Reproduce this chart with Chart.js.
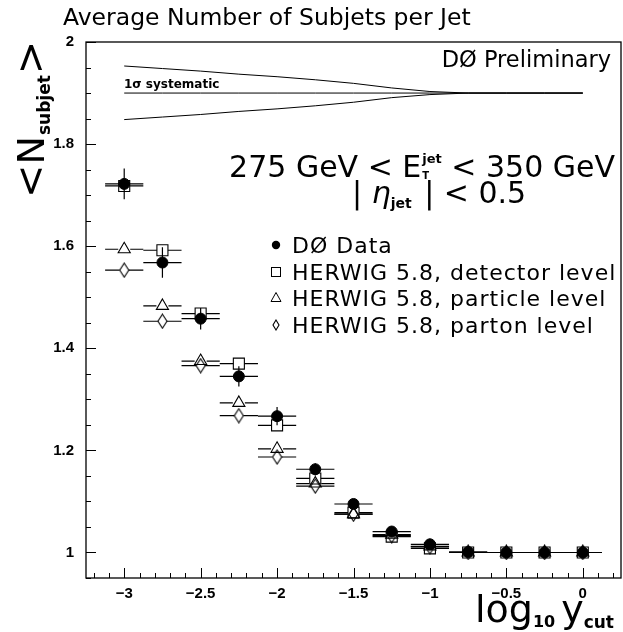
<!DOCTYPE html>
<html>
<head>
<meta charset="utf-8">
<script src="https://cdn.jsdelivr.net/npm/chart.js@4.4.0/dist/chart.umd.min.js"></script>
<style>
html, body { margin: 0; padding: 0; background: #fff; }
#wrap { width: 623px; height: 632px; }
</style>
</head>
<body>
<div id="wrap"><canvas id="subjets" width="623" height="632"></canvas></div>
<script>
// log10(ycut) bin centres
const yCut = [-3, -2.75, -2.5, -2.25, -2, -1.75, -1.5, -1.25, -1, -0.75, -0.5, -0.25, 0];
const binHalf = 0.125;

// <N subjet> values
const d0Data = [1.722, 1.568, 1.458, 1.345, 1.267, 1.163, 1.095, 1.041, 1.016, 1.001, 1.0, 1.0, 1.0];
const d0Err = [0.03, 0.03, 0.021, 0.02, 0.018, 0.012, 0.01, 0.007, 0.006, 0.003, 0.002, 0.002, 0.002];
const herwigDetector = [1.718, 1.592, 1.468, 1.37, 1.249, 1.145, 1.078, 1.031, 1.008, 1.0, 1.0, 1.0, 1.0];
const herwigParticle = [1.594, 1.483, 1.375, 1.293, 1.203, 1.135, 1.075, 1.035, 1.012, 1.0, 1.0, 1.0, 1.0];
const herwigParton = [1.553, 1.453, 1.366, 1.268, 1.187, 1.130, 1.075, 1.033, 1.011, 1.0, 1.0, 1.0, 1.0];

// 1 sigma systematic band drawn at the top
const sysX = [-3, -2.75, -2.5, -2.25, -2, -1.75, -1.5, -1.25, -1, -0.75, -0.5, -0.25, 0];
const sysCentre = [1.9, 1.9, 1.9, 1.9, 1.9, 1.9, 1.9, 1.9, 1.9, 1.9, 1.9, 1.9, 1.9];
const sysUpper = [1.953, 1.948, 1.943, 1.937, 1.932, 1.926, 1.919, 1.910, 1.903, 1.9, 1.9, 1.9, 1.9];
const sysLower = [1.848, 1.853, 1.858, 1.864, 1.869, 1.875, 1.882, 1.891, 1.897, 1.9, 1.9, 1.9, 1.9];

// axis ticks
const xTickValues = [-3, -2.5, -2, -1.5, -1, -0.5, 0];
const yTickValues = [1, 1.2, 1.4, 1.6, 1.8, 2];

const FONT = '"DejaVu Sans", sans-serif';
const TICKFONT = { family: '"Liberation Sans", Arial, sans-serif', size: 15, weight: 'bold' };

function pts(xs, ys) {
    return xs.map((x, i) => ({ x: x, y: ys[i] }));
}

function fmtTick(v) {
    return String(Math.round(v * 100) / 100).replace('-', '\u2212');
}

// narrow diamond marker
function diamondMarker(w, h) {
    const c = document.createElement('canvas');
    c.width = w + 2;
    c.height = h + 2;
    const g = c.getContext('2d');
    g.strokeStyle = '#000';
    g.lineWidth = 1.1;
    g.beginPath();
    g.moveTo(c.width / 2, 1);
    g.lineTo(c.width - 1, c.height / 2);
    g.lineTo(c.width / 2, c.height - 1);
    g.lineTo(1, c.height / 2);
    g.closePath();
    g.stroke();
    return c;
}

const diamondBig = diamondMarker(9, 14);
const diamondSmall = diamondMarker(6, 10);

// draws a list of text pieces one after another
function drawRuns(ctx, x, y, runs) {
    runs.forEach(r => {
        ctx.font = r.font;
        ctx.fillText(r.t, x, y + (r.dy || 0));
        x += ctx.measureText(r.t).width + (r.gap || 0);
    });
    return x;
}

function runsWidth(ctx, runs) {
    let w = 0;
    runs.forEach(r => {
        ctx.font = r.font;
        w += ctx.measureText(r.t).width + (r.gap || 0);
    });
    return w;
}

const errorBars = {
    id: 'errorBars',
    beforeDatasetsDraw(chart) {
        const ctx = chart.ctx;
        const xs = chart.scales.x, ys = chart.scales.y;
        ctx.save();
        ctx.strokeStyle = '#000';
        ctx.lineWidth = 1.2;
        chart.data.datasets.forEach(ds => {
            if (!ds.gap) return;
            ds.data.forEach((p, i) => {
                const px = xs.getPixelForValue(p.x);
                const py = ys.getPixelForValue(p.y);
                const x0 = xs.getPixelForValue(p.x - binHalf);
                const x1 = xs.getPixelForValue(p.x + binHalf);
                ctx.beginPath();
                ctx.moveTo(x0, py); ctx.lineTo(px - ds.gap, py);
                ctx.moveTo(px + ds.gap, py); ctx.lineTo(x1, py);
                if (ds.yErr) {
                    ctx.moveTo(px, ys.getPixelForValue(p.y + ds.yErr[i]));
                    ctx.lineTo(px, ys.getPixelForValue(p.y - ds.yErr[i]));
                }
                ctx.stroke();
            });
        });
        ctx.restore();
    }
};

const frameAndText = {
    id: 'frameAndText',
    afterDraw(chart) {
        const ctx = chart.ctx;
        const a = chart.chartArea;
        const xs = chart.scales.x, ys = chart.scales.y;
        ctx.save();
        ctx.strokeStyle = '#000';
        ctx.lineWidth = 1.3;
        ctx.strokeRect(a.left, a.top, a.right - a.left, a.bottom - a.top);

        // inward ticks, minor every 0.1 / 0.05
        ctx.lineWidth = 1;
        ctx.beginPath();
        for (let k = -32; k <= 2; k++) {
            const v = k / 10;
            const px = Math.round(xs.getPixelForValue(v)) + 0.5;
            const len = (k % 5 === 0) ? 10 : 5;
            ctx.moveTo(px, a.bottom); ctx.lineTo(px, a.bottom - len);
        }
        for (let k = 19; k <= 40; k++) {
            const v = k / 20;
            const py = Math.round(ys.getPixelForValue(v)) + 0.5;
            const len = (k % 4 === 0) ? 10 : 5;
            ctx.moveTo(a.left, py); ctx.lineTo(a.left + len, py);
        }
        ctx.stroke();

        ctx.fillStyle = '#000';
        ctx.textBaseline = 'alphabetic';

        // title
        ctx.textAlign = 'left';
        ctx.font = '23.5px ' + FONT;
        ctx.fillText('Average Number of Subjets per Jet', 63, 25);

        // DØ Preliminary
        ctx.textAlign = 'right';
        ctx.font = '22.5px ' + FONT;
        ctx.fillText('D\u00D8 Preliminary', 611, 67);
        ctx.textAlign = 'left';

        // 1 sigma label
        ctx.font = 'bold 12px ' + FONT;
        ctx.fillText('1\u03C3 systematic', 124, 88);

        // ET cut line
        const big = '30px ' + FONT;
        const part1 = [{ t: '275 GeV < E', font: big }];
        const part2 = [{ t: ' < 350 GeV', font: big }];
        ctx.font = 'bold 13px ' + FONT;
        const jetW = ctx.measureText('jet').width;
        const total = runsWidth(ctx, part1) + jetW + runsWidth(ctx, part2);
        let x = 614 - total;
        x = drawRuns(ctx, x, 177, part1);
        ctx.font = 'bold 13px ' + FONT;
        ctx.fillText('jet', x + 1, 163);
        ctx.font = 'bold 10px ' + FONT;
        ctx.fillText('T', x + 1, 179);
        drawRuns(ctx, x + jetW + 1, 177, part2);

        // eta cut line
        const etaRuns = [
            { t: '| ', font: big },
            { t: '\u03B7', font: 'italic ' + big },
            { t: 'jet', font: 'bold 14px ' + FONT, dy: 5, gap: 3 },
            { t: ' | < 0.5', font: big }
        ];
        drawRuns(ctx, 352, 203, etaRuns);

        // legend
        const rows = ['D\u00D8 Data', 'HERWIG 5.8, detector level', 'HERWIG 5.8, particle level', 'HERWIG 5.8, parton level'];
        const base = [253, 280, 306, 333];
        ctx.font = '22px ' + FONT;
        ctx.letterSpacing = '1px';
        rows.forEach((r, i) => ctx.fillText(r, 292, base[i]));
        ctx.letterSpacing = '0px';
        ctx.lineWidth = 1;
        const mx = 276;
        // filled circle
        ctx.beginPath();
        ctx.arc(mx, base[0] - 8, 4.2, 0, Math.PI * 2);
        ctx.fill();
        // open square
        ctx.strokeRect(mx - 4.5, base[1] - 12.5, 9, 9);
        // open triangle
        ctx.beginPath();
        ctx.moveTo(mx, base[2] - 13.5);
        ctx.lineTo(mx + 5, base[2] - 4.5);
        ctx.lineTo(mx - 5, base[2] - 4.5);
        ctx.closePath();
        ctx.stroke();
        // open diamond
        ctx.drawImage(diamondSmall, mx - diamondSmall.width / 2, base[3] - 8 - diamondSmall.height / 2);

        // x axis title
        drawRuns(ctx, 475, 622, [
            { t: 'log', font: '38px ' + FONT },
            { t: '10', font: 'bold 16px ' + FONT, dy: 5, gap: 6 },
            { t: 'y', font: '38px ' + FONT },
            { t: 'cut', font: 'bold 17px ' + FONT, dy: 6 }
        ]);

        // y axis title, rotated
        ctx.translate(44, 198);
        ctx.rotate(-Math.PI / 2);
        drawRuns(ctx, 0, 0, [
            { t: '<', font: '40px ' + FONT },
            { t: 'N', font: '38px ' + FONT, gap: 1 },
            { t: 'subjet', font: 'bold 17px ' + FONT, dy: 6, gap: 1 },
            { t: '>', font: '40px ' + FONT }
        ]);
        ctx.restore();
    }
};

const ctx = document.getElementById('subjets').getContext('2d');

const bandLine = (ys) => ({
    data: pts(sysX, ys),
    showLine: true,
    borderColor: '#000',
    borderWidth: 1,
    pointRadius: 0,
    tension: 0,
    order: 10
});

const chart = new Chart(ctx, {
    type: 'scatter',
    data: {
        datasets: [
            {
                label: 'D\u00D8 Data',
                data: pts(yCut, d0Data),
                yErr: d0Err,
                gap: 0.1,
                pointStyle: 'circle',
                radius: 5.5,
                backgroundColor: '#000',
                borderColor: '#000',
                borderWidth: 1,
                order: 1
            },
            {
                label: 'HERWIG 5.8, detector level',
                data: pts(yCut, herwigDetector),
                gap: 5.5,
                pointStyle: 'rect',
                radius: 7.8,
                backgroundColor: 'rgba(0,0,0,0)',
                borderColor: '#000',
                borderWidth: 1.1,
                order: 2
            },
            {
                label: 'HERWIG 5.8, particle level',
                data: pts(yCut, herwigParticle),
                gap: 6,
                pointStyle: 'triangle',
                radius: 7,
                backgroundColor: 'rgba(0,0,0,0)',
                borderColor: '#000',
                borderWidth: 1.1,
                order: 3
            },
            {
                label: 'HERWIG 5.8, parton level',
                data: pts(yCut, herwigParton),
                gap: 4.5,
                pointStyle: diamondBig,
                radius: 7,
                order: 4
            },
            bandLine(sysUpper),
            bandLine(sysCentre),
            bandLine(sysLower)
        ]
    },
    options: {
        responsive: false,
        animation: false,
        events: [],
        layout: { autoPadding: false, padding: { top: 42, right: 2, left: 0, bottom: 0 } },
        plugins: {
            legend: { display: false },
            tooltip: { enabled: false },
            title: { display: false }
        },
        scales: {
            x: {
                type: 'linear',
                min: -3.25,
                max: 0.25,
                afterBuildTicks: s => { s.ticks = xTickValues.map(v => ({ value: v })); },
                afterFit: s => { s.height = 54; s.paddingLeft = 0; s.paddingRight = 0; },
                grid: { display: false, drawTicks: false },
                border: { display: false },
                ticks: {
                    color: '#000',
                    padding: 7,
                    maxRotation: 0,
                    autoSkip: false,
                    font: TICKFONT,
                    callback: v => fmtTick(v)
                }
            },
            y: {
                type: 'linear',
                min: 0.95,
                max: 2,
                afterBuildTicks: s => { s.ticks = yTickValues.map(v => ({ value: v })); },
                afterFit: s => { s.width = 86; s.paddingTop = 0; s.paddingBottom = 0; },
                grid: { display: false, drawTicks: false },
                border: { display: false },
                ticks: {
                    color: '#000',
                    padding: 12,
                    autoSkip: false,
                    font: TICKFONT,
                    callback: v => fmtTick(v)
                }
            }
        }
    },
    plugins: [errorBars, frameAndText]
});
</script>
</body>
</html>
